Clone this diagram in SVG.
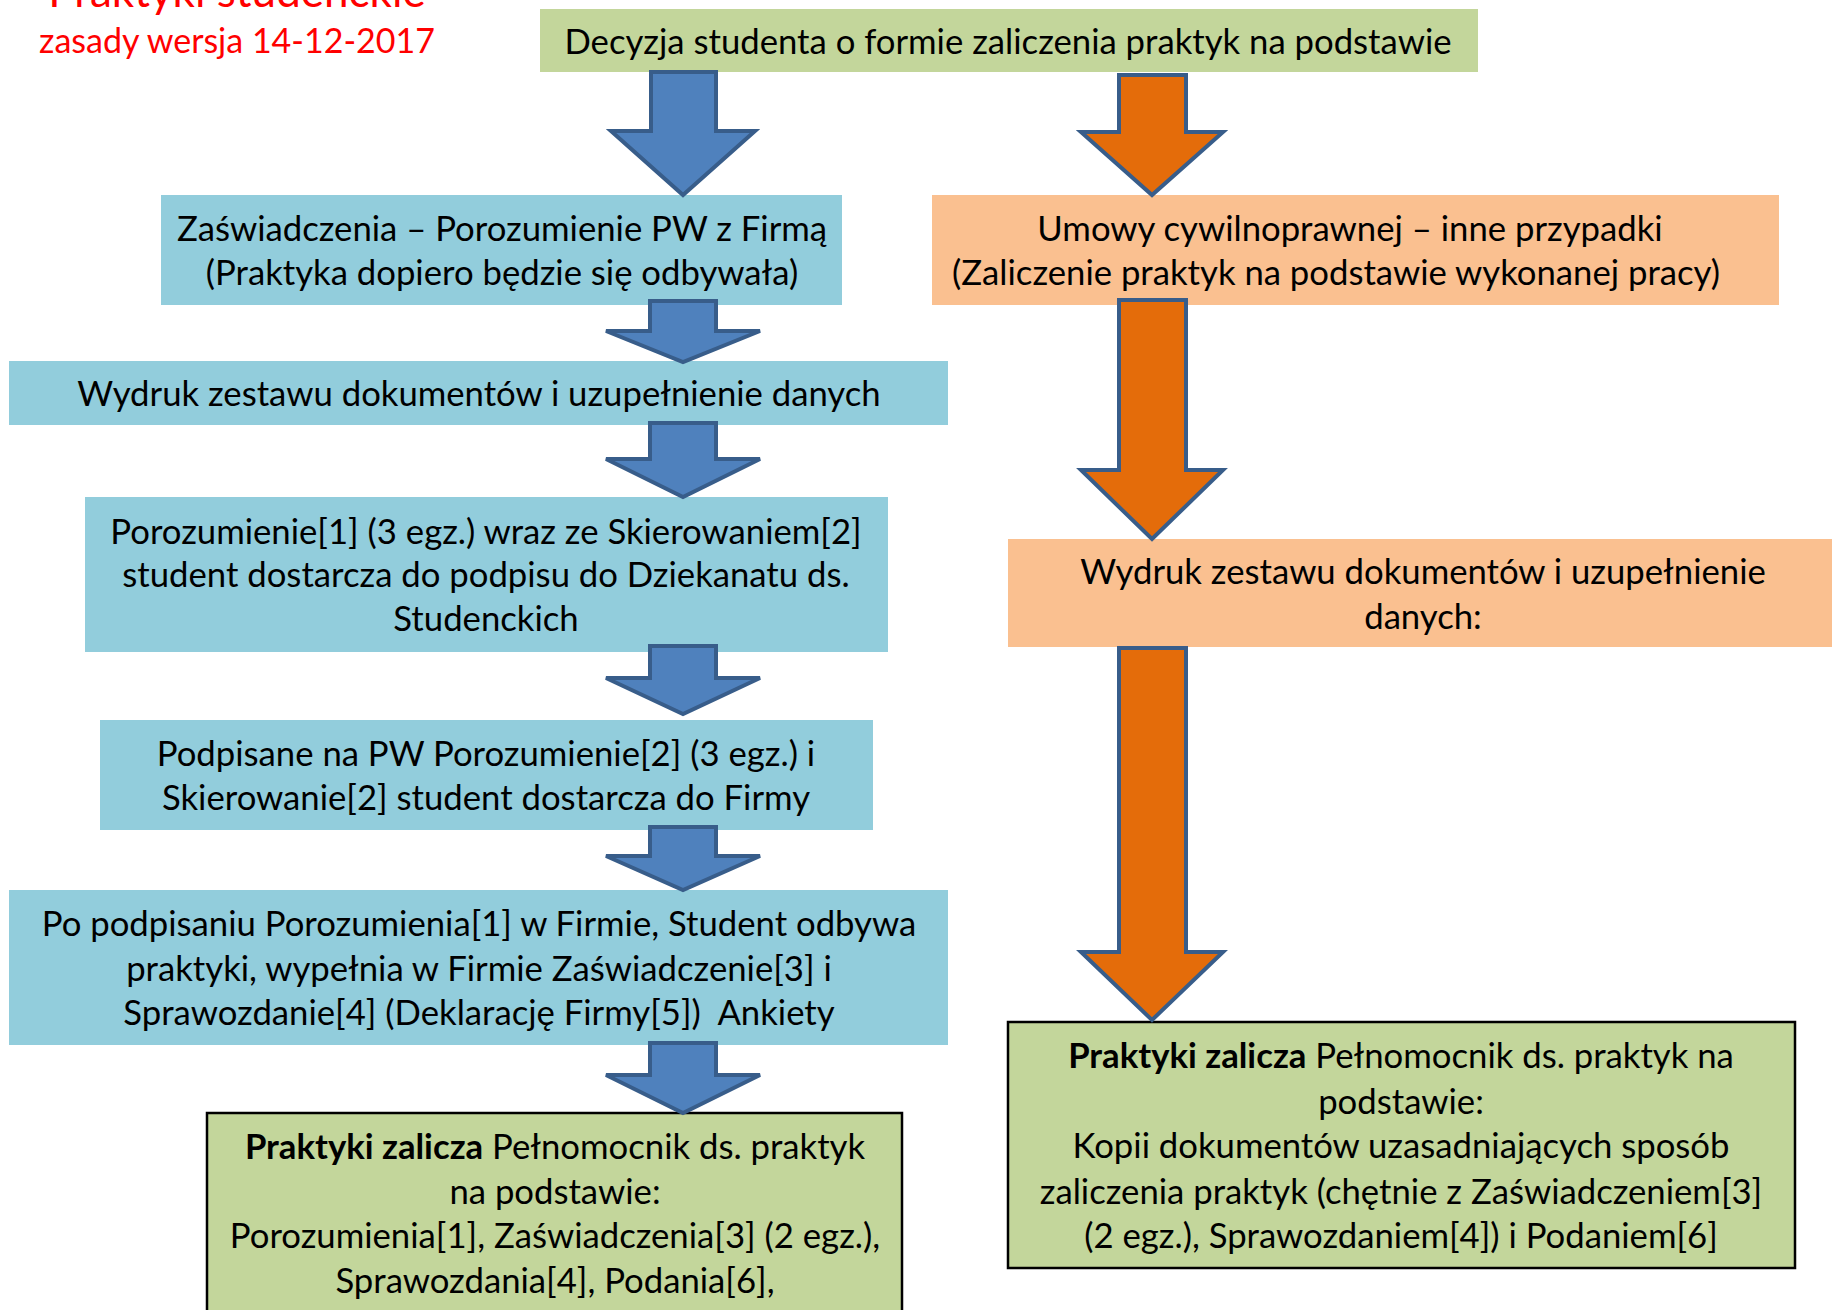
<svg xmlns="http://www.w3.org/2000/svg" width="1832" height="1310" viewBox="0 0 1832 1310">
<style>
text{font-family:Lato,"Open Sans","Liberation Sans",sans-serif;font-size:34.7px;fill:#000;text-anchor:middle}
.red{fill:#FF0000}
.b{font-weight:bold}
.blue{fill:#92CDDC}
.orange{fill:#FAC090}
.green{fill:#C3D69B}
.gb{fill:#C3D69B;stroke:#000;stroke-width:2.5}
.ab{fill:#4F81BD;stroke:#385D8A;stroke-width:4;stroke-linejoin:miter}
.ao{fill:#E46C0A;stroke:#385D8A;stroke-width:4;stroke-linejoin:miter}
</style>
<rect width="1832" height="1310" fill="#fff"/>
<g id="title">
<text class="red" x="237" y="7" style="font-size:44px">Praktyki studenckie</text>
<text class="red" x="237" y="53" style="font-size:34px">zasady wersja 14-12-2017</text>
</g>
<g id="n-decyzja">
<rect class="green" x="540" y="9" width="938" height="63"/>
<text x="1008" y="54">Decyzja studenta o formie zaliczenia praktyk na podstawie</text>
</g>
<g id="n-zaswiadczenia">
<rect class="blue" x="161" y="195" width="681" height="110"/>
<text x="502" y="241">Zaświadczenia – Porozumienie PW z Firmą</text>
<text x="502" y="285">(Praktyka dopiero będzie się odbywała)</text>
</g>
<g id="n-umowy">
<rect class="orange" x="932" y="195" width="847" height="110"/>
<text x="1350" y="241">Umowy cywilnoprawnej – inne przypadki</text>
<text x="1336" y="285">(Zaliczenie praktyk na podstawie wykonanej pracy)</text>
</g>
<g id="n-wydruk1">
<rect class="blue" x="9" y="361" width="939" height="64"/>
<text x="479" y="406">Wydruk zestawu dokumentów i uzupełnienie danych</text>
</g>
<g id="n-porozumienie">
<rect class="blue" x="85" y="497" width="803" height="155"/>
<text x="486" y="544">Porozumienie[1] (3 egz.) wraz ze Skierowaniem[2]</text>
<text x="486" y="587">student dostarcza do podpisu do Dziekanatu ds.</text>
<text x="486" y="631">Studenckich</text>
</g>
<g id="n-podpisane">
<rect class="blue" x="100" y="720" width="773" height="110"/>
<text x="486" y="766">Podpisane na PW Porozumienie[2] (3 egz.) i</text>
<text x="486" y="810">Skierowanie[2] student dostarcza do Firmy</text>
</g>
<g id="n-po-podpisaniu">
<rect class="blue" x="9" y="890" width="939" height="155"/>
<text x="479" y="936">Po podpisaniu Porozumienia[1] w Firmie, Student odbywa</text>
<text x="479" y="981">praktyki, wypełnia w Firmie Zaświadczenie[3] i</text>
<text x="479" y="1025" style="white-space:pre">Sprawozdanie[4] (Deklarację Firmy[5])  Ankiety</text>
</g>
<g id="n-zalicza-left">
<rect class="gb" x="207" y="1113" width="695" height="220"/>
<text x="555" y="1159"><tspan class="b">Praktyki zalicza</tspan> Pełnomocnik ds. praktyk</text>
<text x="555" y="1204">na podstawie:</text>
<text x="555" y="1248">Porozumienia[1], Zaświadczenia[3] (2 egz.),</text>
<text x="555" y="1293">Sprawozdania[4], Podania[6],</text>
</g>
<g id="n-wydruk2">
<rect class="orange" x="1008" y="539" width="824" height="108"/>
<text x="1423" y="584">Wydruk zestawu dokumentów i uzupełnienie</text>
<text x="1423" y="629">danych:</text>
</g>
<g id="n-zalicza-right">
<rect class="gb" x="1008" y="1022" width="787" height="246"/>
<text x="1401" y="1068"><tspan class="b">Praktyki zalicza</tspan> Pełnomocnik ds. praktyk na</text>
<text x="1401" y="1114">podstawie:</text>
<text x="1401" y="1158">Kopii dokumentów uzasadniających sposób</text>
<text x="1401" y="1204">zaliczenia praktyk (chętnie z Zaświadczeniem[3]</text>
<text x="1401" y="1248">(2 egz.), Sprawozdaniem[4]) i Podaniem[6]</text>
</g>
<g id="connectors">
<path class="ab" d="M651,72 H716 V131 H755 L683,195 L611,131 H651 Z"/>
<path class="ab" d="M650,301 H716 V331 H760 L683,362 L606,331 H650 Z"/>
<path class="ab" d="M650,423 H716 V459 H760 L683,497 L606,459 H650 Z"/>
<path class="ab" d="M650,646 H716 V678 H760 L683,714 L606,678 H650 Z"/>
<path class="ab" d="M650,827 H716 V856 H760 L683,890 L606,856 H650 Z"/>
<path class="ab" d="M650,1043 H716 V1075 H760 L683,1113 L606,1075 H650 Z"/>
<path class="ao" d="M1119,75 H1186 V132 H1223 L1152,195 L1081,132 H1119 Z"/>
<path class="ao" d="M1119,300 H1186 V470 H1223 L1152,539 L1081,470 H1119 Z"/>
<path class="ao" d="M1119,648 H1186 V952 H1223 L1152,1020 L1081,952 H1119 Z"/>
</g>
</svg>
